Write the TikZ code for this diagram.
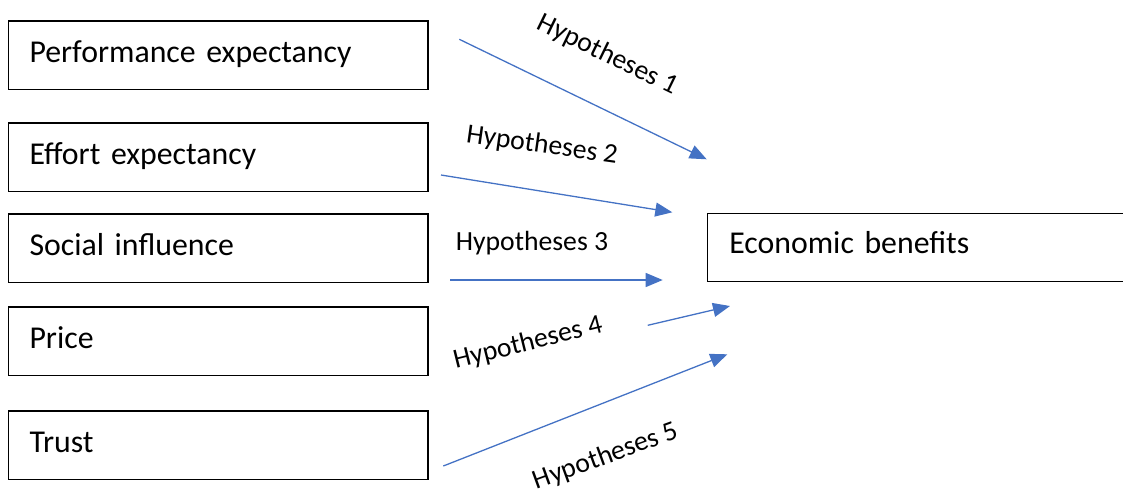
\documentclass[tikz,border=0pt]{standalone}
\usepackage{fontspec}
\setmainfont{Carlito}
\usetikzlibrary{arrows.meta}
\definecolor{arrowblue}{HTML}{4472C4}
\begin{document}
\begin{tikzpicture}[x=1pt,y=-1pt,
  factorbox/.style={draw=black, line width=1.3pt, anchor=north west, outer sep=0pt,
    inner xsep=21pt, inner ysep=0pt, text width=377.5pt, align=left,
    text height=41pt, text depth=27.5pt, font=\fontsize{31.8}{38}\selectfont},
  hyparrow/.style={draw=arrowblue, line width=1.3pt, -{Triangle[length=17pt,width=14pt]}},
  hyplabel/.style={inner sep=0pt, font=\fontsize{27.7}{33}\selectfont}]
\useasboundingbox (0,0) rectangle (1123,498);
\clip (0,0) rectangle (1123,498);
% factor boxes
\node[factorbox] (pe) at (8.5,21) {Performance expectancy};
\node[factorbox] (ee) at (8.5,123) {Effort expectancy};
\node[factorbox] (si) at (8.5,214) {Social influence};
\node[factorbox] (pr) at (8.5,307) {Price};
\node[factorbox] (tr) at (8.5,411) {Trust};
% outcome box (runs past the right edge)
\node[factorbox, inner xsep=22pt, text width=400pt, text height=40pt, text depth=28.4pt] (eb) at (707.3,213.3) {Economic benefits};
% arrow end points
\coordinate (s1) at (459.3,39.3);  \coordinate (t1) at (706.7,159.3);
\coordinate (s2) at (441,175);     \coordinate (t2) at (672.3,212.3);
\coordinate (s3) at (450,280);     \coordinate (t3) at (662.7,280);
\coordinate (s4) at (647.7,325.3); \coordinate (t4) at (730,306);
\coordinate (s5) at (443.3,466);   \coordinate (t5) at (727.3,354.3);
\draw[hyparrow] (s1) -- (t1);
\draw[hyparrow] (s2) -- (t2);
\draw[hyparrow] (s3) -- (t3);
\draw[hyparrow] (s4) -- (t4);
\draw[hyparrow] (s5) -- (t5);
% labels
\node[hyplabel, rotate=-26] (h1) at (607.5,55) {Hypotheses 1};
\node[hyplabel, rotate=-8] (h2) at (542,145.5) {Hypotheses 2};
\node[hyplabel] (h3) at (532,243.3) {Hypotheses 3};
\node[hyplabel, rotate=14] (h4) at (528,343.3) {Hypotheses 4};
\node[hyplabel, rotate=20] (h5) at (606,456.7) {Hypotheses 5};
\end{tikzpicture}
\end{document}
